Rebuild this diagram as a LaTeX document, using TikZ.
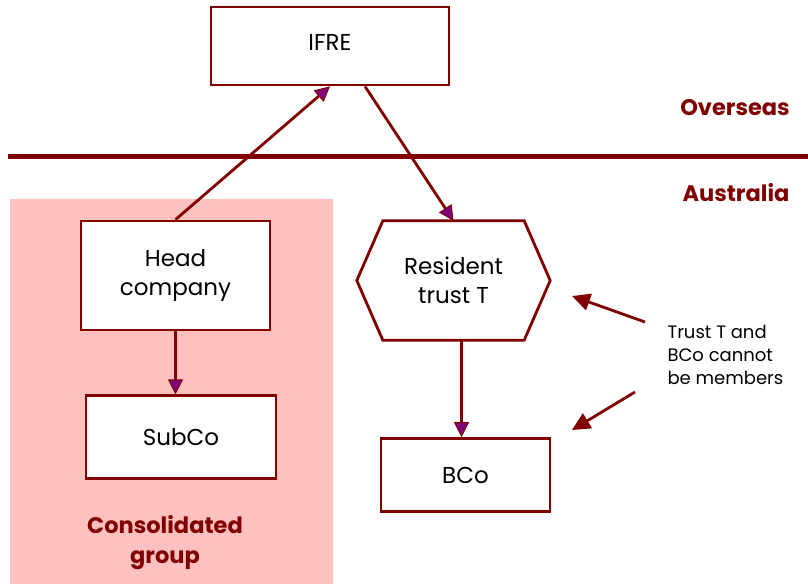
\documentclass[tikz,border=0pt]{standalone}
\usepackage{fontspec}
\setmainfont{Poppins}
\usetikzlibrary{arrows.meta,positioning}
\definecolor{maroon}{RGB}{128,0,0}
\definecolor{rosebg}{RGB}{255,192,192}
\definecolor{tipfill}{RGB}{128,0,128}

\begin{document}
\begin{tikzpicture}[x=1pt, y=-1pt,
    caption/.style={align=center, font=\fontsize{23}{29.5}\selectfont},
    entity/.style={caption, draw=maroon, line width=2.8pt, fill=white},
    link/.style={draw=maroon, line width=2.8pt, -{Triangle[length=15pt, width=15pt, fill=tipfill, line width=1pt]}},
    hint/.style={draw=maroon, line width=2.8pt, -{Triangle[length=18pt, width=17pt, fill=maroon]}},
    region/.style={text=maroon, align=center, font=\fontsize{22.5}{30}\selectfont\bfseries}]
    \useasboundingbox (0,0) rectangle (808,584);

    % consolidated group background and border line
    \fill[rosebg] (10,199) rectangle (333,584);
    \draw[maroon, line width=5pt] (8,156) -- (808,156);

    \node[entity, minimum width=238pt, minimum height=78pt] (ifre) at (330,46) {\raisebox{8pt}{IFRE}};
    \node[entity, minimum width=189pt, minimum height=109pt] (head) at (175.5,275.5) {Head\\company};
    \node[entity, minimum width=190pt, minimum height=83pt, below=63pt of head, xshift=5.5pt] (subco) {SubCo};

    \node[caption, minimum width=193pt, minimum height=119pt] (trust) at (453.5,280.5) {Resident\\trust T};
    \draw[maroon, line width=2.8pt] (trust.west) -- ([xshift=26pt]trust.north west) -- ([xshift=-26pt]trust.north east)
        -- (trust.east) -- ([xshift=-26pt]trust.south east) -- ([xshift=26pt]trust.south west) -- cycle;
    \node[entity, minimum width=169pt, minimum height=73pt, below=97pt of trust, xshift=12pt] (bco) {BCo};

    \node[region] (overseas) at (735,108) {Overseas};
    \node[region] (australia) at (736,193) {Australia};
    \node[region] (group) at (165,543) {Consolidated\\group};

    \node[anchor=west, align=left, font=\fontsize{18}{23}\selectfont] (note) at (664,355) {Trust T and\\BCo cannot\\be members};
    \coordinate (hexmark) at (572,296);
    \coordinate (bcomark) at (572,430);

    \draw[link] (head.north) -- (ifre.south);
    \draw[link] ([xshift=35pt]ifre.south) -- (trust.north);
    \draw[link] (head.south) -- (head.south |- subco.north);
    \draw[link] ([xshift=8pt]trust.south) -- ([xshift=8pt]trust.south |- bco.north);

    \draw[hint] ([xshift=-19pt, yshift=33pt]note.west) -- (hexmark);
    \draw[hint] ([xshift=-29pt, yshift=-37pt]note.west) -- (bcomark);
\end{tikzpicture}
\end{document}
